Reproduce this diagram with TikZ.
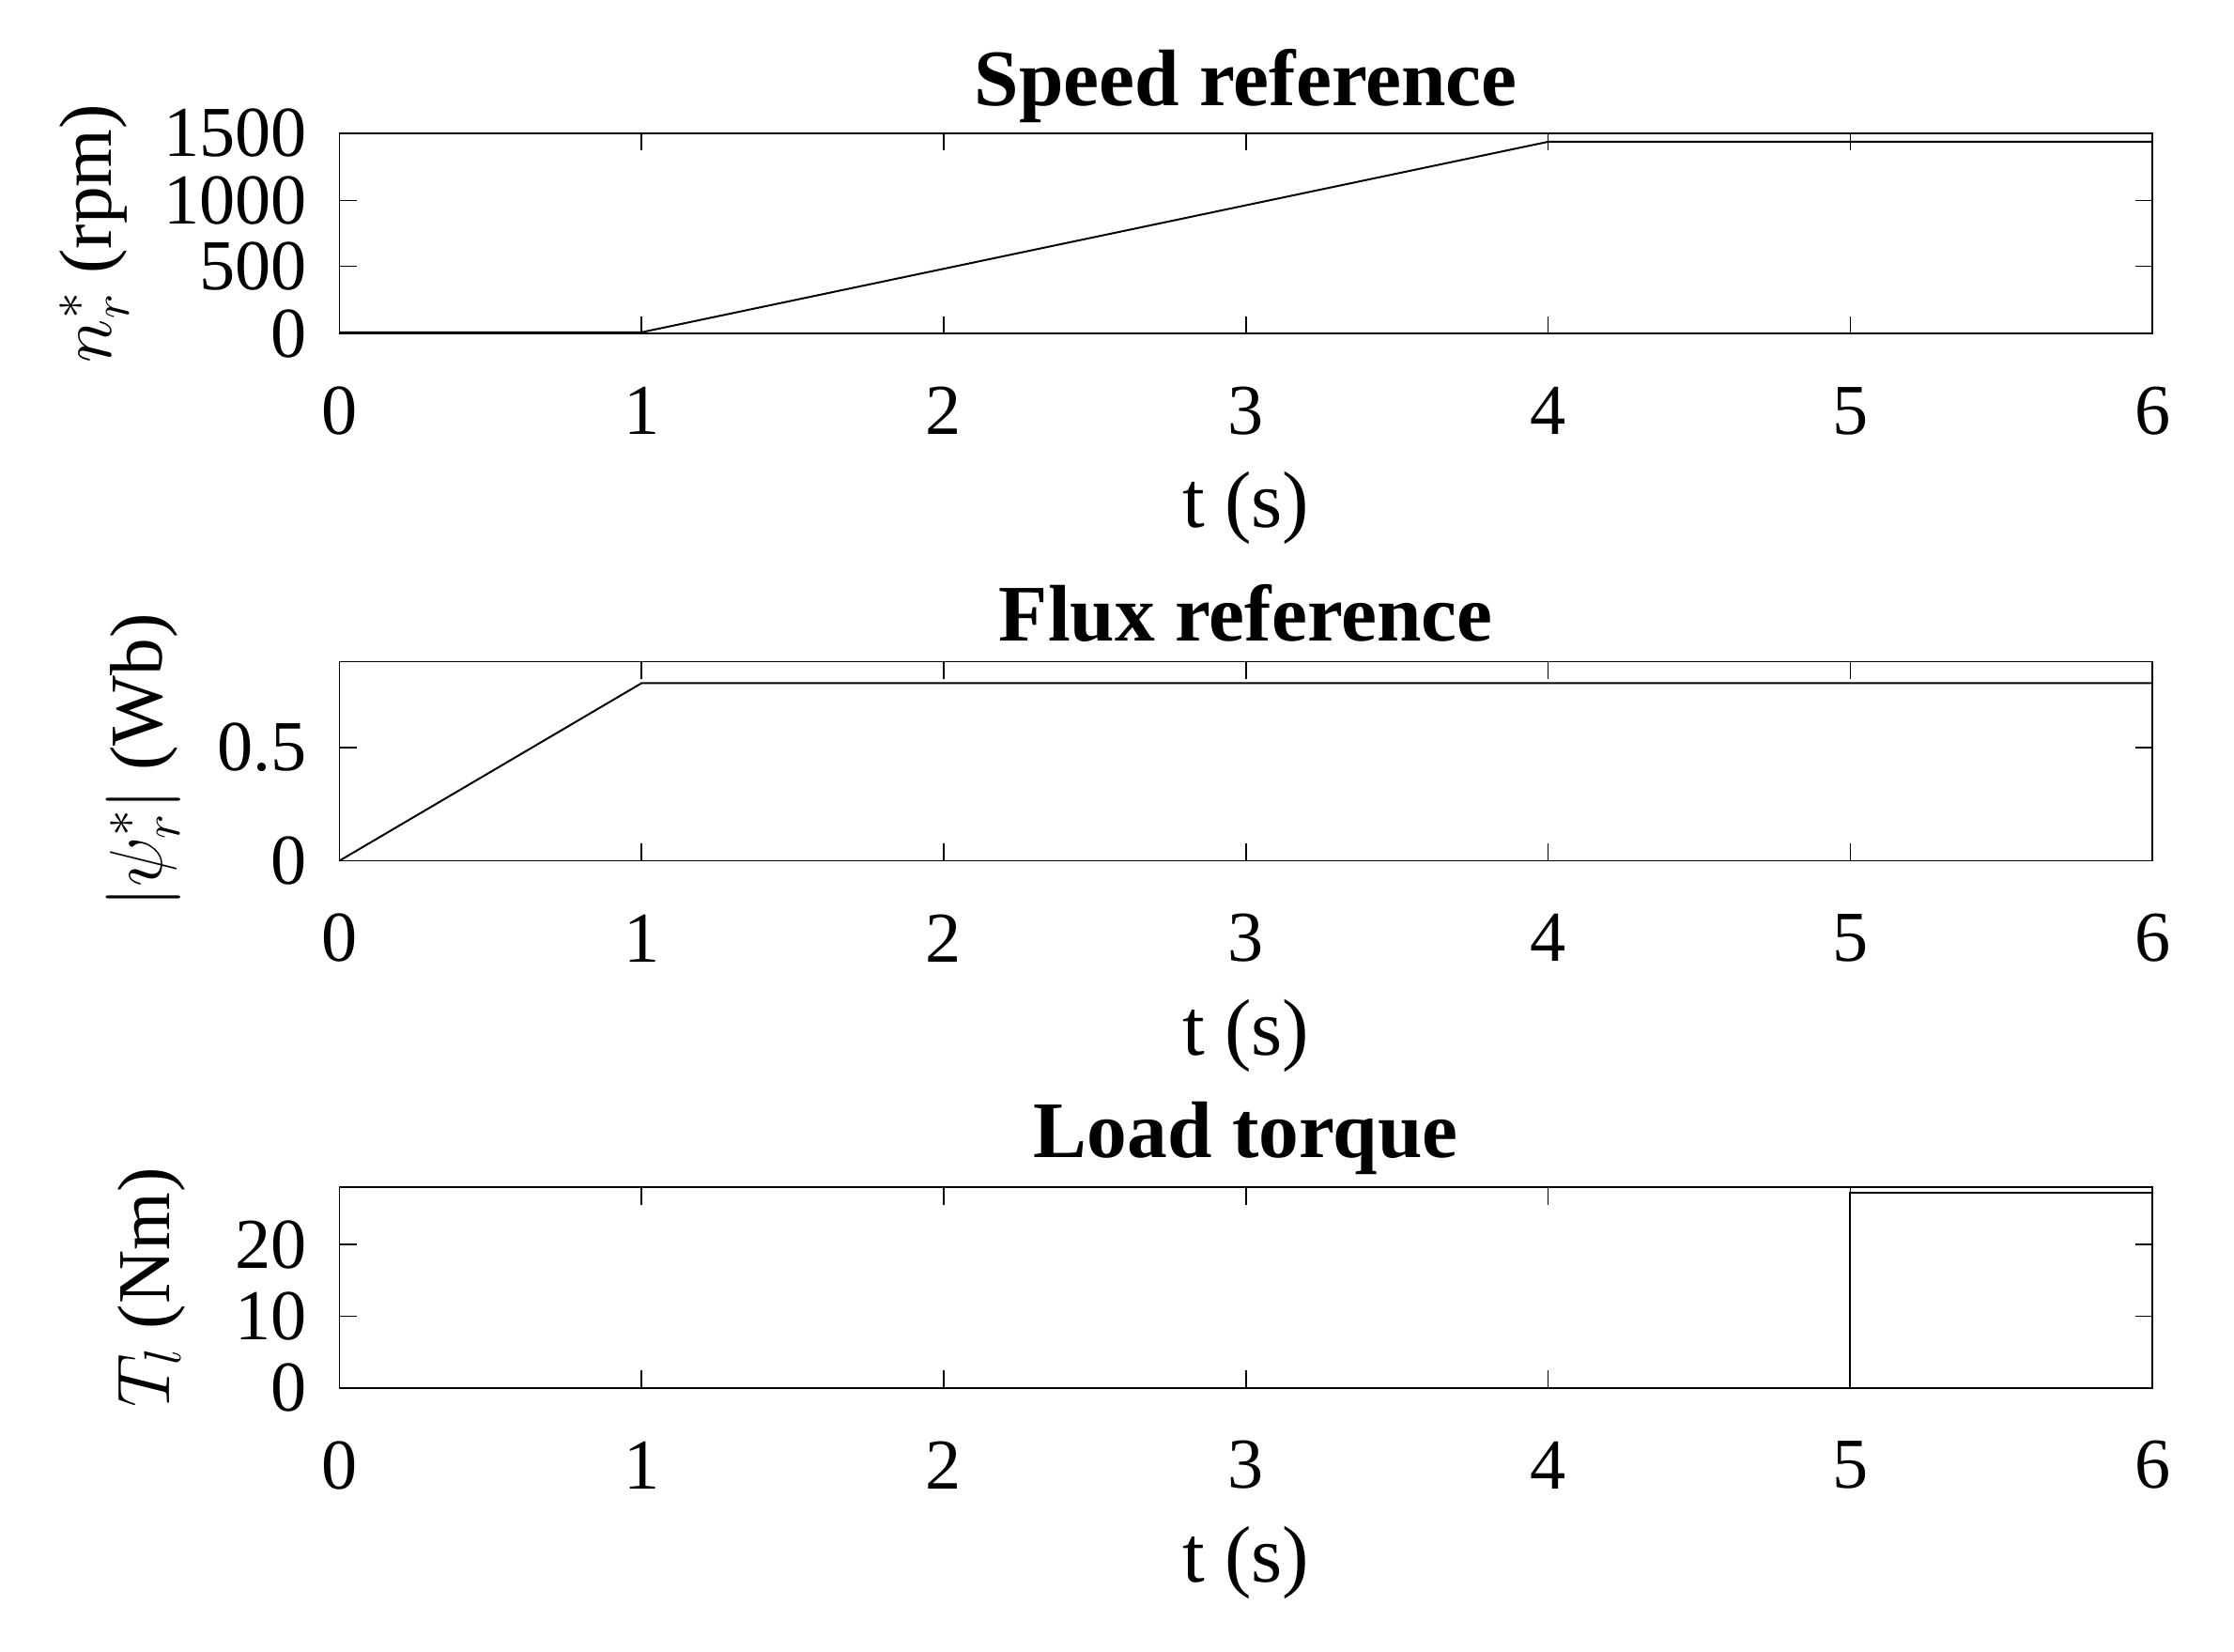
\documentclass[tikz,border=0pt]{standalone}
\usepackage{fix-cm}
\usepackage{fontspec}
\setmainfont{Liberation Serif}
\begin{document}
\begin{tikzpicture}[x=1pt,y=-1pt,
  tick/.style={font=\fontsize{50}{50}\selectfont},
  ttl/.style={font=\bfseries\fontsize{56}{56}\selectfont},
  ylab/.style={font=\fontsize{52}{52}\selectfont,rotate=90},
  curve/.style={line width=1.3pt}]
\useasboundingbox (0,0) rectangle (1560,1153);
\foreach \T/\B in {93/233,462/601,829/969}{
  \draw[line width=1.2pt] (237,\T) rectangle (1503,\B);
  \foreach \i in {0,...,6}{
    \pgfmathsetmacro\xx{237+211*\i}
    \draw[line width=1pt] (\xx,\B) -- (\xx,\B-12) (\xx,\T) -- (\xx,\T+12);
    \node[tick] (xt\i\T) at (\xx,\B+54) {\i};
  }
  \node[font=\fontsize{56}{56}\selectfont] (xl\T) at (870,\B+122) {t (s)};
}
% panel 1
\foreach \v/\y in {0/233,500/186,1000/140,1500/93}{
  \draw[line width=1pt] (237,\y) -- (249,\y) (1503,\y) -- (1491,\y);
  \node[tick,anchor=east] (ya\v) at (218,\y) {\v};}
\node[ttl] (t1) at (870,60) {Speed reference};
\node[ylab] (l1) at (66,163) {$n_r^*$ (rpm)};
\draw[curve] (237,232) -- (448,232) -- (1081,99) -- (1503,99);
% panel 2
\foreach \v/\y in {0/601,0.5/522}{
  \draw[line width=1pt] (237,\y) -- (249,\y) (1503,\y) -- (1491,\y);
  \node[tick,anchor=east] (yb\v) at (218,\y) {\v};}
\node[ttl] (t2) at (870,428) {Flux reference};
\node[ylab] (l2) at (100,531) {$|\psi_r^*|$ (Wb)};
\draw[curve] (237,601) -- (448,477) -- (1503,477);
% panel 3
\foreach \v/\y in {0/969,10/919,20/869}{
  \draw[line width=1pt] (237,\y) -- (249,\y) (1503,\y) -- (1491,\y);
  \node[tick,anchor=east] (yc\v) at (218,\y) {\v};}
\node[ttl] (t3) at (870,795) {Load torque};
\node[ylab] (l3) at (106,899) {$T_l$ (Nm)};
\draw[curve] (237,969) -- (1292,969) -- (1292,833) -- (1503,833);
\end{tikzpicture}
\end{document}
